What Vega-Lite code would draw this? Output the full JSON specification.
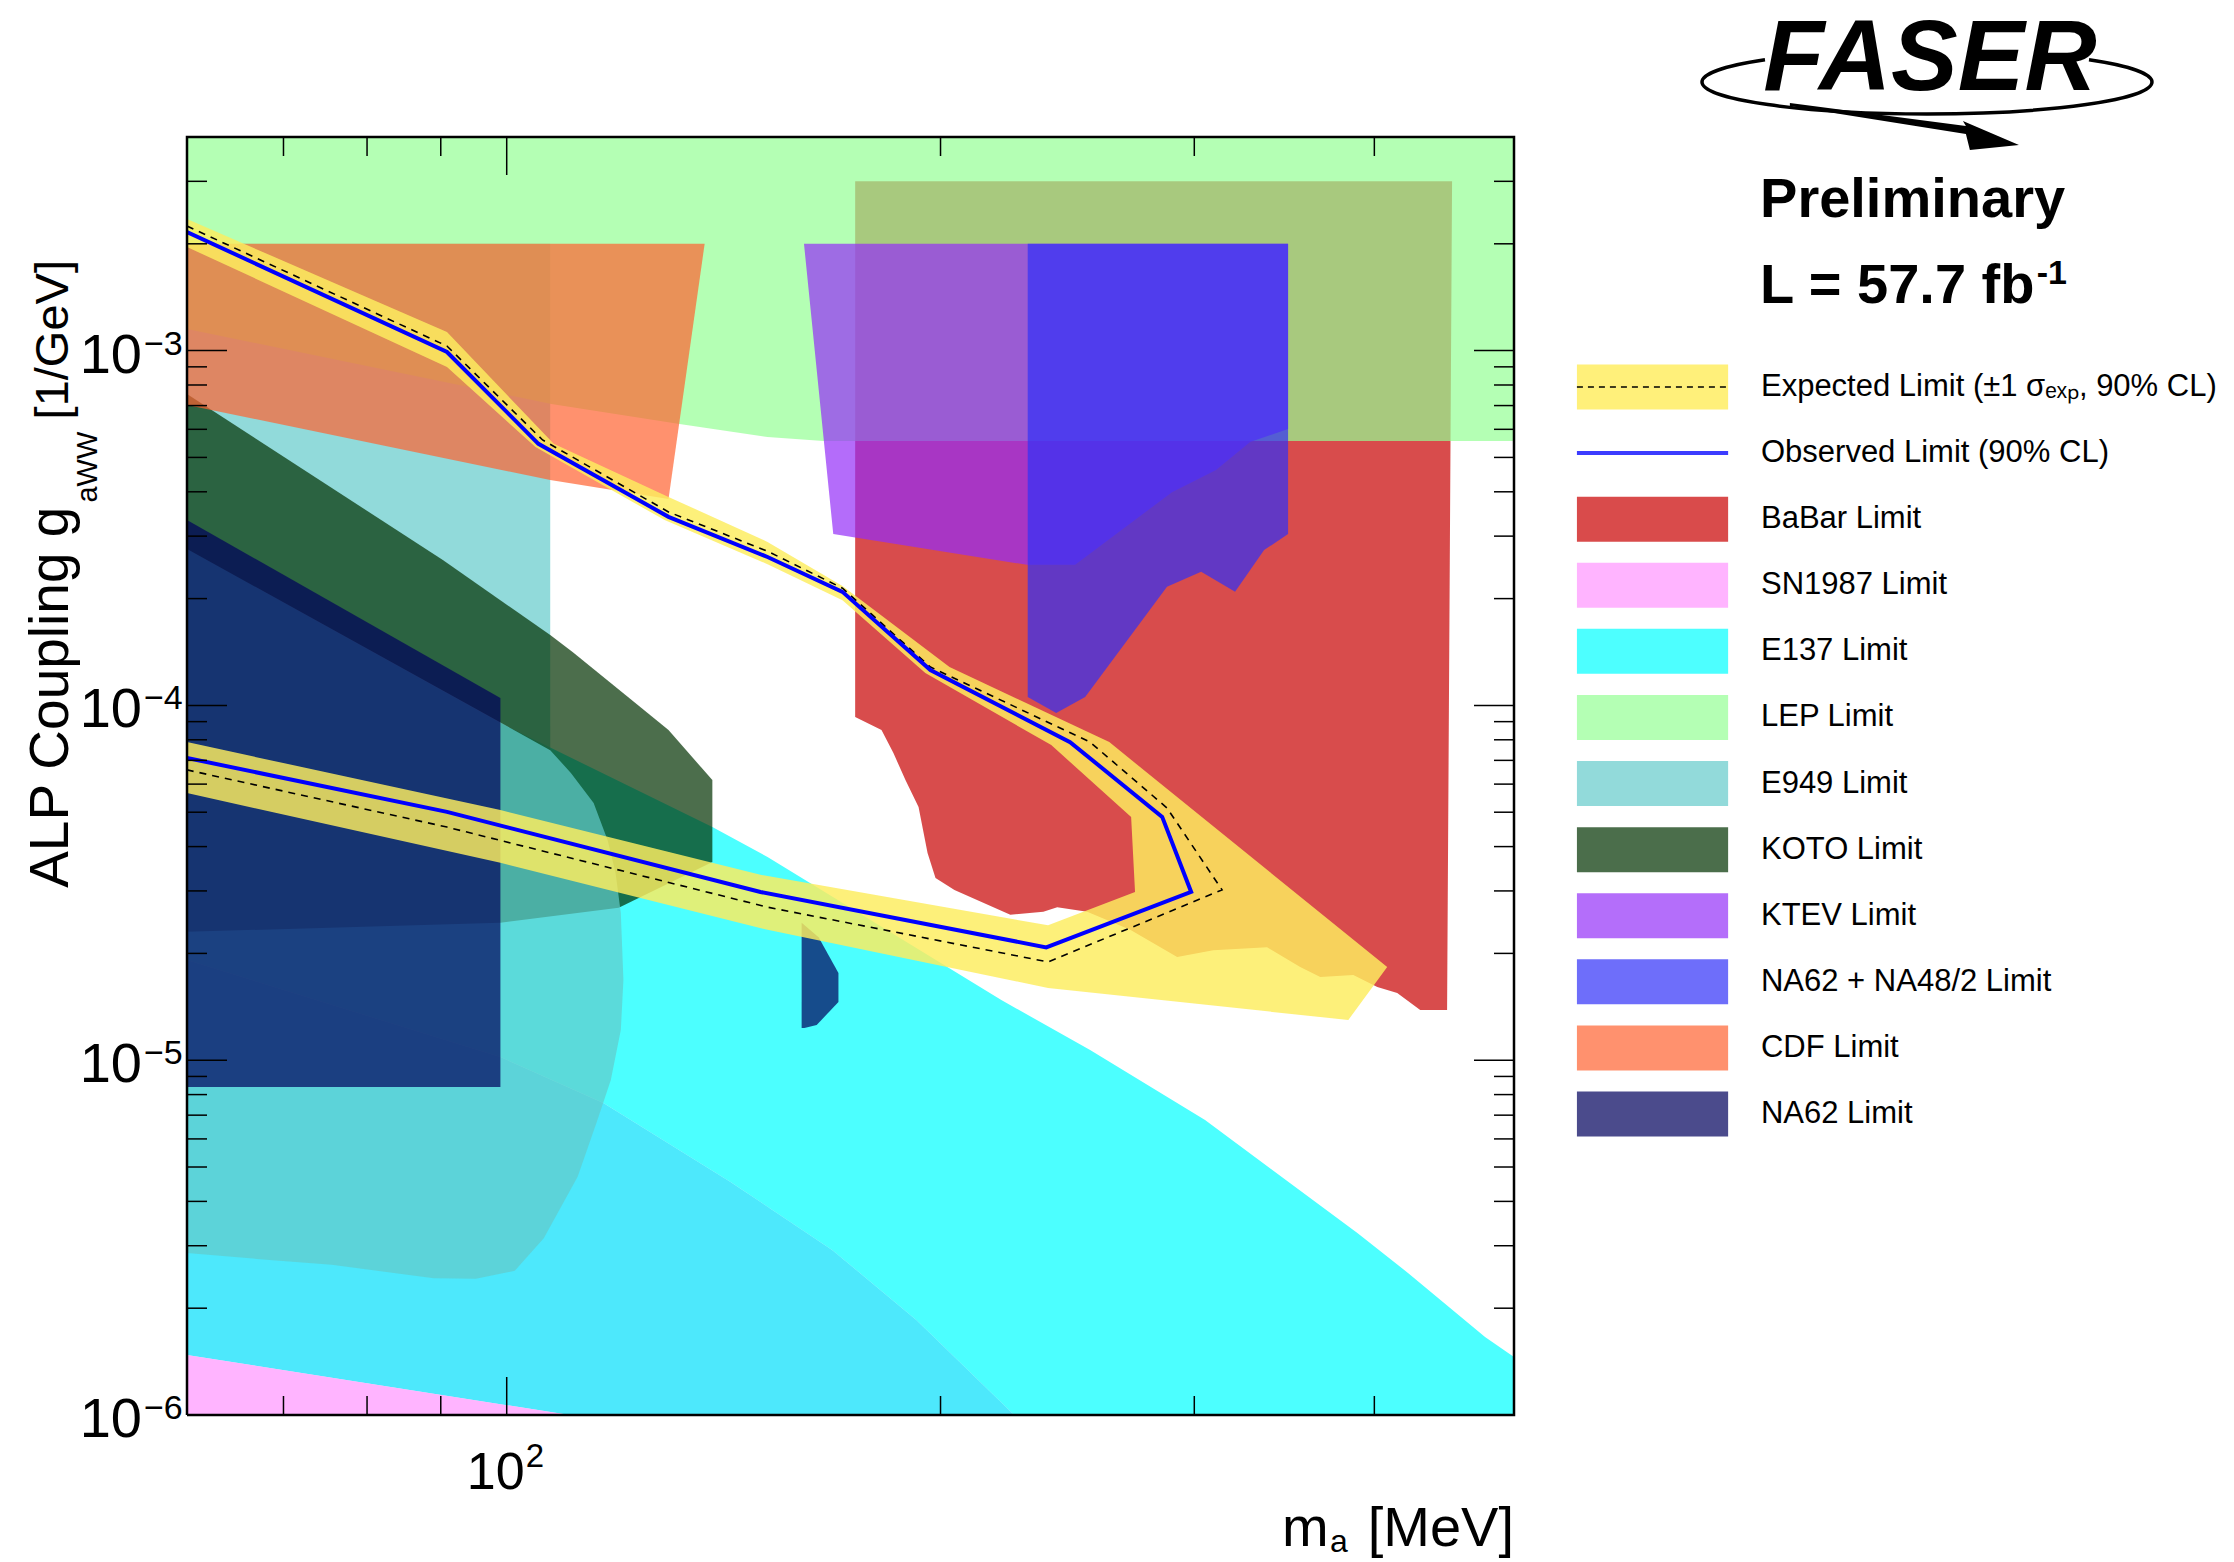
{
"$schema":"https://vega.github.io/schema/vega-lite/v6.json",
"background":"white",
"autosize":{"type":"none"},
"padding":{"left":187,"top":137,"right":720,"bottom":147},
"width":1327,"height":1278,
"config":{"view":{"stroke":null},"font":"Liberation Sans"},
"data":{"values":[
{"p":"E137","i":0,"m":60,"g":2.76e-4},{"p":"E137","i":1,"m":99.0,"g":8.92e-5},{"p":"E137","i":2,"m":138.9,"g":4.54e-5},{"p":"E137","i":3,"m":151.7,"g":3.74e-5},{"p":"E137","i":4,"m":220.4,"g":1.478e-5},{"p":"E137","i":5,"m":254,"g":1.068e-5},{"p":"E137","i":6,"m":305.2,"g":6.78e-6},{"p":"E137","i":7,"m":389.3,"g":3.26e-6},{"p":"E137","i":8,"m":422.3,"g":2.51e-6},{"p":"E137","i":9,"m":477.4,"g":1.66e-6},{"p":"E137","i":10,"m":500,"g":1.457e-6},{"p":"E137","i":11,"m":500,"g":1e-6},{"p":"E137","i":12,"m":225,"g":1e-6},{"p":"E137","i":13,"m":192.5,"g":1.85e-6},{"p":"E137","i":14,"m":168.2,"g":2.92e-6},{"p":"E137","i":15,"m":143,"g":4.54e-6},{"p":"E137","i":16,"m":116.7,"g":7.57e-6},{"p":"E137","i":17,"m":99,"g":1.021e-5},{"p":"E137","i":18,"m":60,"g":1.916e-5},
{"p":"E137b","i":0,"m":60,"g":1.916e-5},{"p":"E137b","i":1,"m":99,"g":1.021e-5},{"p":"E137b","i":2,"m":116.7,"g":7.57e-6},{"p":"E137b","i":3,"m":143,"g":4.54e-6},{"p":"E137b","i":4,"m":168.2,"g":2.92e-6},{"p":"E137b","i":5,"m":192.5,"g":1.85e-6},{"p":"E137b","i":6,"m":225,"g":1e-6},{"p":"E137b","i":7,"m":110.6,"g":1e-6},{"p":"E137b","i":8,"m":60,"g":1.476e-6},
{"p":"SN1987","i":0,"m":60,"g":1.476e-6},{"p":"SN1987","i":1,"m":110.6,"g":1e-6},{"p":"SN1987","i":2,"m":60,"g":1e-6},
{"p":"E949a","i":0,"m":60,"g":2e-3},{"p":"E949a","i":1,"m":107.2,"g":2e-3},{"p":"E949a","i":2,"m":107.2,"g":7.48e-5},{"p":"E949a","i":3,"m":60,"g":2.76e-4},
{"p":"BaBar","i":0,"m":174.5,"g":3.0e-3},{"p":"BaBar","i":1,"m":452.9,"g":3.0e-3},{"p":"BaBar","i":2,"m":449.3,"g":1.385e-5},{"p":"BaBar","i":3,"m":430.4,"g":1.385e-5},{"p":"BaBar","i":4,"m":414.9,"g":1.547e-5},{"p":"BaBar","i":5,"m":401.9,"g":1.608e-5},{"p":"BaBar","i":6,"m":386.8,"g":1.739e-5},{"p":"BaBar","i":7,"m":366.9,"g":1.716e-5},{"p":"BaBar","i":8,"m":355.3,"g":1.831e-5},{"p":"BaBar","i":9,"m":337.0,"g":2.08e-5},{"p":"BaBar","i":10,"m":309.2,"g":2.04e-5},{"p":"BaBar","i":11,"m":291.9,"g":1.954e-5},{"p":"BaBar","i":12,"m":270.8,"g":2.33e-5},{"p":"BaBar","i":13,"m":252.8,"g":2.62e-5},{"p":"BaBar","i":14,"m":241.0,"g":2.70e-5},{"p":"BaBar","i":15,"m":235.7,"g":2.62e-5},{"p":"BaBar","i":16,"m":223.6,"g":2.57e-5},{"p":"BaBar","i":17,"m":204.5,"g":3.02e-5},{"p":"BaBar","i":18,"m":198.4,"g":3.26e-5},{"p":"BaBar","i":19,"m":195.9,"g":3.84e-5},{"p":"BaBar","i":20,"m":193.1,"g":5.17e-5},{"p":"BaBar","i":21,"m":189.1,"g":6.16e-5},{"p":"BaBar","i":22,"m":185.5,"g":7.34e-5},{"p":"BaBar","i":23,"m":182.0,"g":8.52e-5},{"p":"BaBar","i":24,"m":174.5,"g":9.28e-5},
{"p":"LEP","i":0,"m":60,"g":4e-3},{"p":"LEP","i":1,"m":500,"g":4e-3},{"p":"LEP","i":2,"m":500,"g":5.56e-4},{"p":"LEP","i":3,"m":165.9,"g":5.56e-4},{"p":"LEP","i":4,"m":151.7,"g":5.71e-4},{"p":"LEP","i":5,"m":131.8,"g":6.21e-4},{"p":"LEP","i":6,"m":107.4,"g":7.07e-4},{"p":"LEP","i":7,"m":60,"g":1.15e-3},
{"p":"KOTO","i":0,"m":60,"g":7.54e-4},{"p":"KOTO","i":1,"m":90.3,"g":2.57e-4},{"p":"KOTO","i":2,"m":107.2,"g":1.579e-4},{"p":"KOTO","i":3,"m":111.1,"g":1.414e-4},{"p":"KOTO","i":4,"m":122.1,"g":1.036e-4},{"p":"KOTO","i":5,"m":129.5,"g":8.52e-5},{"p":"KOTO","i":6,"m":138.9,"g":6.16e-5},{"p":"KOTO","i":7,"m":138.9,"g":3.62e-5},{"p":"KOTO","i":8,"m":119.6,"g":2.69e-5},{"p":"KOTO","i":9,"m":99.0,"g":2.44e-5},{"p":"KOTO","i":10,"m":60,"g":2.30e-5},
{"p":"E949b","i":0,"m":60,"g":2.76e-4},{"p":"E949b","i":1,"m":107.2,"g":7.48e-5},{"p":"E949b","i":2,"m":110.8,"g":6.45e-5},{"p":"E949b","i":3,"m":114.9,"g":5.31e-5},{"p":"E949b","i":4,"m":117.5,"g":4.17e-5},{"p":"E949b","i":5,"m":119.0,"g":3.37e-5},{"p":"E949b","i":6,"m":120.0,"g":2.60e-5},{"p":"E949b","i":7,"m":120.5,"g":1.683e-5},{"p":"E949b","i":8,"m":120.0,"g":1.217e-5},{"p":"E949b","i":9,"m":118.1,"g":8.79e-6},{"p":"E949b","i":10,"m":115.6,"g":6.78e-6},{"p":"E949b","i":11,"m":112.0,"g":4.69e-6},{"p":"E949b","i":12,"m":106.1,"g":3.15e-6},{"p":"E949b","i":13,"m":101.3,"g":2.55e-6},{"p":"E949b","i":14,"m":95.2,"g":2.42e-6},{"p":"E949b","i":15,"m":89.0,"g":2.43e-6},{"p":"E949b","i":16,"m":75.6,"g":2.65e-6},{"p":"E949b","i":17,"m":68.8,"g":2.73e-6},{"p":"E949b","i":18,"m":60,"g":2.86e-6},
{"p":"NA62","i":0,"m":60,"g":3.33e-4},{"p":"NA62","i":1,"m":99.0,"g":1.049e-4},{"p":"NA62","i":2,"m":99.0,"g":8.40e-6},{"p":"NA62","i":3,"m":60,"g":8.40e-6},
{"p":"NA62s","i":0,"m":160.2,"g":2.44e-5},{"p":"NA62s","i":1,"m":164.6,"g":2.22e-5},{"p":"NA62s","i":2,"m":169.9,"g":1.761e-5},{"p":"NA62s","i":3,"m":169.9,"g":1.459e-5},{"p":"NA62s","i":4,"m":164.1,"g":1.257e-5},{"p":"NA62s","i":5,"m":160.9,"g":1.233e-5},{"p":"NA62s","i":6,"m":160.2,"g":1.233e-5},
{"p":"KTEV","i":0,"m":160.8,"g":2e-3},{"p":"KTEV","i":1,"m":348.5,"g":2e-3},{"p":"KTEV","i":2,"m":348.5,"g":6.01e-4},{"p":"KTEV","i":3,"m":328.0,"g":5.53e-4},{"p":"KTEV","i":4,"m":310.6,"g":4.61e-4},{"p":"KTEV","i":5,"m":289.5,"g":3.99e-4},{"p":"KTEV","i":6,"m":248.0,"g":2.49e-4},{"p":"KTEV","i":7,"m":229.6,"g":2.49e-4},{"p":"KTEV","i":8,"m":168.5,"g":3.04e-4},
{"p":"NA48","i":0,"m":229.9,"g":2e-3},{"p":"NA48","i":1,"m":348.5,"g":2e-3},{"p":"NA48","i":2,"m":348.5,"g":3.04e-4},{"p":"NA48","i":3,"m":335.4,"g":2.74e-4},{"p":"NA48","i":4,"m":331.7,"g":2.57e-4},{"p":"NA48","i":5,"m":320.2,"g":2.09e-4},{"p":"NA48","i":6,"m":303.3,"g":2.38e-4},{"p":"NA48","i":7,"m":287.2,"g":2.16e-4},{"p":"NA48","i":8,"m":252.0,"g":1.056e-4},{"p":"NA48","i":9,"m":240.6,"g":9.52e-5},{"p":"NA48","i":10,"m":229.9,"g":1.056e-4},
{"p":"CDF","i":0,"m":60,"g":2e-3},{"p":"CDF","i":1,"m":137.2,"g":2e-3},{"p":"CDF","i":2,"m":129.5,"g":3.82e-4},{"p":"CDF","i":3,"m":107.2,"g":4.32e-4},{"p":"CDF","i":4,"m":60,"g":7.03e-4},
{"p":"Band","i":0,"m":60,"g":2.349e-3},{"p":"Band","i":1,"m":90.9,"g":1.128e-3},{"p":"Band","i":2,"m":107.8,"g":5.46e-4},{"p":"Band","i":3,"m":129.5,"g":3.87e-4},{"p":"Band","i":4,"m":151.7,"g":2.89e-4},{"p":"Band","i":5,"m":171.0,"g":2.17e-4},{"p":"Band","i":6,"m":202.9,"g":1.283e-4},{"p":"Band","i":7,"m":261.9,"g":7.88e-5},{"p":"Band","i":8,"m":408.3,"g":1.831e-5},{"p":"Band","i":9,"m":383.7,"g":1.298e-5},{"p":"Band","i":10,"m":237.5,"g":1.598e-5},{"p":"Band","i":11,"m":151.7,"g":2.33e-5},{"p":"Band","i":12,"m":99.0,"g":3.60e-5},{"p":"Band","i":13,"m":60,"g":5.66e-5},{"p":"Band","i":14,"m":60,"g":7.88e-5},{"p":"Band","i":15,"m":99.0,"g":5.07e-5},{"p":"Band","i":16,"m":150.0,"g":3.33e-5},{"p":"Band","i":17,"m":237.5,"g":2.40e-5},{"p":"Band","i":18,"m":272.9,"g":2.98e-5},{"p":"Band","i":19,"m":271.2,"g":4.85e-5},{"p":"Band","i":20,"m":238.7,"g":7.73e-5},{"p":"Band","i":21,"m":195.2,"g":1.234e-4},{"p":"Band","i":22,"m":171.0,"g":1.98e-4},{"p":"Band","i":23,"m":151.7,"g":2.50e-4},{"p":"Band","i":24,"m":128.7,"g":3.33e-4},{"p":"Band","i":25,"m":104.7,"g":5.35e-4},{"p":"Band","i":26,"m":90.9,"g":8.99e-4},{"p":"Band","i":27,"m":60,"g":1.959e-3},
{"p":"Obs","i":0,"m":60,"g":2.159e-3},{"p":"Obs","i":1,"m":90.9,"g":9.91e-4},{"p":"Obs","i":2,"m":105.2,"g":5.46e-4},{"p":"Obs","i":3,"m":129.5,"g":3.40e-4},{"p":"Obs","i":4,"m":151.7,"g":2.62e-4},{"p":"Obs","i":5,"m":171.0,"g":2.09e-4},{"p":"Obs","i":6,"m":196.8,"g":1.258e-4},{"p":"Obs","i":7,"m":246.0,"g":7.88e-5},{"p":"Obs","i":8,"m":285.0,"g":4.85e-5},{"p":"Obs","i":9,"m":298.5,"g":2.98e-5},{"p":"Obs","i":10,"m":236.8,"g":2.08e-5},{"p":"Obs","i":11,"m":150.0,"g":2.98e-5},{"p":"Obs","i":12,"m":90.9,"g":5.01e-5},{"p":"Obs","i":13,"m":60,"g":7.11e-5},
{"p":"Exp","i":0,"m":60,"g":2.244e-3},{"p":"Exp","i":1,"m":90.9,"g":1.030e-3},{"p":"Exp","i":2,"m":105.9,"g":5.60e-4},{"p":"Exp","i":3,"m":129.5,"g":3.51e-4},{"p":"Exp","i":4,"m":151.7,"g":2.72e-4},{"p":"Exp","i":5,"m":171.0,"g":2.14e-4},{"p":"Exp","i":6,"m":196.8,"g":1.283e-4},{"p":"Exp","i":7,"m":254.0,"g":7.88e-5},{"p":"Exp","i":8,"m":287.2,"g":5.14e-5},{"p":"Exp","i":9,"m":313.6,"g":3.02e-5},{"p":"Exp","i":10,"m":237.5,"g":1.892e-5},{"p":"Exp","i":11,"m":151.7,"g":2.70e-5},{"p":"Exp","i":12,"m":90.9,"g":4.54e-5},{"p":"Exp","i":13,"m":60,"g":6.58e-5},
{"p":"tx","k":"n","m":70,"g":1e-4},{"p":"tx","k":"n","m":80,"g":1e-4},{"p":"tx","k":"n","m":90,"g":1e-4},{"p":"tx","k":"j","m":100,"g":1e-4},{"p":"tx","k":"n","m":200,"g":1e-4},{"p":"tx","k":"n","m":300,"g":1e-4},{"p":"tx","k":"n","m":400,"g":1e-4},
{"p":"ty","k":"j","m":100,"g":1e-6},{"p":"ty","k":"n","m":100,"g":2e-6},{"p":"ty","k":"n","m":100,"g":3e-6},{"p":"ty","k":"n","m":100,"g":4e-6},{"p":"ty","k":"n","m":100,"g":5e-6},{"p":"ty","k":"n","m":100,"g":6e-6},{"p":"ty","k":"n","m":100,"g":7e-6},{"p":"ty","k":"n","m":100,"g":8e-6},{"p":"ty","k":"n","m":100,"g":9e-6},
{"p":"ty","k":"j","m":100,"g":1e-5},{"p":"ty","k":"n","m":100,"g":2e-5},{"p":"ty","k":"n","m":100,"g":3e-5},{"p":"ty","k":"n","m":100,"g":4e-5},{"p":"ty","k":"n","m":100,"g":5e-5},{"p":"ty","k":"n","m":100,"g":6e-5},{"p":"ty","k":"n","m":100,"g":7e-5},{"p":"ty","k":"n","m":100,"g":8e-5},{"p":"ty","k":"n","m":100,"g":9e-5},
{"p":"ty","k":"j","m":100,"g":1e-4},{"p":"ty","k":"n","m":100,"g":2e-4},{"p":"ty","k":"n","m":100,"g":3e-4},{"p":"ty","k":"n","m":100,"g":4e-4},{"p":"ty","k":"n","m":100,"g":5e-4},{"p":"ty","k":"n","m":100,"g":6e-4},{"p":"ty","k":"n","m":100,"g":7e-4},{"p":"ty","k":"n","m":100,"g":8e-4},{"p":"ty","k":"n","m":100,"g":9e-4},
{"p":"ty","k":"j","m":100,"g":1e-3},{"p":"ty","k":"n","m":100,"g":2e-3},{"p":"ty","k":"n","m":100,"g":3e-3},
{"p":"fr","i":0,"m":60,"g":1e-6},{"p":"fr","i":1,"m":500,"g":1e-6},{"p":"fr","i":2,"m":500,"g":4e-3},{"p":"fr","i":3,"m":60,"g":4e-3},{"p":"fr","i":4,"m":60,"g":1e-6},
{"p":"one","m":100,"g":1e-4,"order":1},
{"p":"leg","label":"Expected Limit (±1 σₑₓₚ, 90% CL)","order":1,"kind":"band"},
{"p":"leg","label":"Observed Limit (90% CL)","order":2,"kind":"line"},
{"p":"leg","label":"BaBar Limit","order":3,"kind":"box"},
{"p":"leg","label":"SN1987 Limit","order":4,"kind":"box"},
{"p":"leg","label":"E137 Limit","order":5,"kind":"box"},
{"p":"leg","label":"LEP Limit","order":6,"kind":"box"},
{"p":"leg","label":"E949 Limit","order":7,"kind":"box"},
{"p":"leg","label":"KOTO Limit","order":8,"kind":"box"},
{"p":"leg","label":"KTEV Limit","order":9,"kind":"box"},
{"p":"leg","label":"NA62 + NA48/2 Limit","order":10,"kind":"box"},
{"p":"leg","label":"CDF Limit","order":11,"kind":"box"},
{"p":"leg","label":"NA62 Limit","order":12,"kind":"box"}
]},
"resolve":{"scale":{"x":"independent","y":"independent","color":"independent"},"axis":{"x":"independent","y":"independent"}},
"layer":[
{
"encoding":{
"x":{"field":"m","type":"quantitative","scale":{"type":"log","domain":[60,500],"nice":false},"axis":null},
"y":{"field":"g","type":"quantitative","scale":{"type":"log","domain":[0.000001,0.004],"nice":false},"axis":null}
},
"layer":[
{"transform":[{"filter":"datum.p=='E137'"}],"mark":{"type":"line","filled":true,"color":"#00ffff","fillOpacity":0.7,"clip":true},"encoding":{"order":{"field":"i","type":"quantitative"}}},
{"transform":[{"filter":"datum.p=='E137b'"}],"mark":{"type":"line","filled":true,"color":"#02defb","fillOpacity":0.7,"clip":true},"encoding":{"order":{"field":"i","type":"quantitative"}}},
{"transform":[{"filter":"datum.p=='SN1987'"}],"mark":{"type":"line","filled":true,"color":"#ff94ff","fillOpacity":0.7,"clip":true},"encoding":{"order":{"field":"i","type":"quantitative"}}},
{"transform":[{"filter":"datum.p=='E949a'"}],"mark":{"type":"line","filled":true,"color":"#62caca","fillOpacity":0.7,"clip":true},"encoding":{"order":{"field":"i","type":"quantitative"}}},
{"transform":[{"filter":"datum.p=='BaBar'"}],"mark":{"type":"line","filled":true,"color":"#c80000","fillOpacity":0.7,"clip":true},"encoding":{"order":{"field":"i","type":"quantitative"}}},
{"transform":[{"filter":"datum.p=='LEP'"}],"mark":{"type":"line","filled":true,"color":"#94ff94","fillOpacity":0.7,"clip":true},"encoding":{"order":{"field":"i","type":"quantitative"}}},
{"transform":[{"filter":"datum.p=='KOTO'"}],"mark":{"type":"line","filled":true,"color":"#003000","fillOpacity":0.7,"clip":true},"encoding":{"order":{"field":"i","type":"quantitative"}}},
{"transform":[{"filter":"datum.p=='E949b'"}],"mark":{"type":"line","filled":true,"color":"#62caca","fillOpacity":0.7,"clip":true},"encoding":{"order":{"field":"i","type":"quantitative"}}},
{"transform":[{"filter":"datum.p=='NA62'"}],"mark":{"type":"line","filled":true,"color":"#00005b","fillOpacity":0.7,"clip":true},"encoding":{"order":{"field":"i","type":"quantitative"}}},
{"transform":[{"filter":"datum.p=='NA62s'"}],"mark":{"type":"line","filled":true,"color":"#00005b","fillOpacity":0.7,"clip":true},"encoding":{"order":{"field":"i","type":"quantitative"}}},
{"transform":[{"filter":"datum.p=='KTEV'"}],"mark":{"type":"line","filled":true,"color":"#942ef8","fillOpacity":0.7,"clip":true},"encoding":{"order":{"field":"i","type":"quantitative"}}},
{"transform":[{"filter":"datum.p=='NA48'"}],"mark":{"type":"line","filled":true,"color":"#3030f8","fillOpacity":0.7,"clip":true},"encoding":{"order":{"field":"i","type":"quantitative"}}},
{"transform":[{"filter":"datum.p=='CDF'"}],"mark":{"type":"line","filled":true,"color":"#ff6230","fillOpacity":0.7,"clip":true},"encoding":{"order":{"field":"i","type":"quantitative"}}},
{"transform":[{"filter":"datum.p=='Band'"}],"mark":{"type":"line","filled":true,"color":"#fded5f","fillOpacity":0.83,"clip":true},"encoding":{"order":{"field":"i","type":"quantitative"}}},
{"transform":[{"filter":"datum.p=='Exp'"}],"mark":{"type":"line","color":"black","strokeWidth":1.6,"strokeDash":[7,6],"clip":true},"encoding":{"order":{"field":"i","type":"quantitative"}}},
{"transform":[{"filter":"datum.p=='Obs'"}],"mark":{"type":"line","color":"#0000ff","strokeWidth":4,"clip":true},"encoding":{"order":{"field":"i","type":"quantitative"}}},
{"transform":[{"filter":"datum.p=='tx' && datum.k=='j'"}],"mark":{"type":"rule","color":"black","strokeWidth":1.5,"y2Offset":-38},"encoding":{"y":{"datum":0.000001,"type":"quantitative"},"y2":{"datum":0.000001}}},
{"transform":[{"filter":"datum.p=='tx' && datum.k=='n'"}],"mark":{"type":"rule","color":"black","strokeWidth":1.5,"y2Offset":-19},"encoding":{"y":{"datum":0.000001,"type":"quantitative"},"y2":{"datum":0.000001}}},
{"transform":[{"filter":"datum.p=='tx' && datum.k=='j'"}],"mark":{"type":"rule","color":"black","strokeWidth":1.5,"y2Offset":38},"encoding":{"y":{"datum":0.004,"type":"quantitative"},"y2":{"datum":0.004}}},
{"transform":[{"filter":"datum.p=='tx' && datum.k=='n'"}],"mark":{"type":"rule","color":"black","strokeWidth":1.5,"y2Offset":19},"encoding":{"y":{"datum":0.004,"type":"quantitative"},"y2":{"datum":0.004}}},
{"transform":[{"filter":"datum.p=='ty' && datum.k=='j'"}],"mark":{"type":"rule","color":"black","strokeWidth":1.5,"x2Offset":40},"encoding":{"x":{"datum":60,"type":"quantitative"},"x2":{"datum":60}}},
{"transform":[{"filter":"datum.p=='ty' && datum.k=='n'"}],"mark":{"type":"rule","color":"black","strokeWidth":1.5,"x2Offset":20},"encoding":{"x":{"datum":60,"type":"quantitative"},"x2":{"datum":60}}},
{"transform":[{"filter":"datum.p=='ty' && datum.k=='j'"}],"mark":{"type":"rule","color":"black","strokeWidth":1.5,"x2Offset":-40},"encoding":{"x":{"datum":500,"type":"quantitative"},"x2":{"datum":500}}},
{"transform":[{"filter":"datum.p=='ty' && datum.k=='n'"}],"mark":{"type":"rule","color":"black","strokeWidth":1.5,"x2Offset":-20},"encoding":{"x":{"datum":500,"type":"quantitative"},"x2":{"datum":500}}},
{"transform":[{"filter":"datum.p=='fr'"}],"mark":{"type":"line","color":"black","strokeWidth":2.5},"encoding":{"order":{"field":"i","type":"quantitative"}}},
{"transform":[{"filter":"datum.p=='ty' && datum.k=='j'"}],"mark":{"type":"text","text":"10","align":"right","baseline":"alphabetic","fontSize":56,"dx":-45,"dy":22,"font":"Liberation Sans","color":"black"},"encoding":{"x":{"datum":60,"type":"quantitative"}}},
{"transform":[{"filter":"datum.p=='ty' && datum.g==0.000001"}],"mark":{"type":"text","text":"−6","align":"left","baseline":"alphabetic","fontSize":34,"dx":-43,"dy":4,"font":"Liberation Sans","color":"black"},"encoding":{"x":{"datum":60,"type":"quantitative"}}},
{"transform":[{"filter":"datum.p=='ty' && datum.g==0.00001"}],"mark":{"type":"text","text":"−5","align":"left","baseline":"alphabetic","fontSize":34,"dx":-43,"dy":4,"font":"Liberation Sans","color":"black"},"encoding":{"x":{"datum":60,"type":"quantitative"}}},
{"transform":[{"filter":"datum.p=='ty' && datum.g==0.0001"}],"mark":{"type":"text","text":"−4","align":"left","baseline":"alphabetic","fontSize":34,"dx":-43,"dy":4,"font":"Liberation Sans","color":"black"},"encoding":{"x":{"datum":60,"type":"quantitative"}}},
{"transform":[{"filter":"datum.p=='ty' && datum.g==0.001"}],"mark":{"type":"text","text":"−3","align":"left","baseline":"alphabetic","fontSize":34,"dx":-43,"dy":4,"font":"Liberation Sans","color":"black"},"encoding":{"x":{"datum":60,"type":"quantitative"}}},
{"transform":[{"filter":"datum.p=='tx' && datum.k=='j'"}],"mark":{"type":"text","text":"10","align":"right","baseline":"alphabetic","fontSize":52,"dx":18,"dy":74,"font":"Liberation Sans","color":"black"},"encoding":{"y":{"datum":0.000001,"type":"quantitative"}}},
{"transform":[{"filter":"datum.p=='tx' && datum.k=='j'"}],"mark":{"type":"text","text":"2","align":"left","baseline":"alphabetic","fontSize":33,"dx":19,"dy":52,"font":"Liberation Sans","color":"black"},"encoding":{"y":{"datum":0.000001,"type":"quantitative"}}},
{"transform":[{"filter":"datum.p=='one'"}],"mark":{"type":"text","text":"ALP Coupling g","angle":270,"align":"left","baseline":"alphabetic","fontSize":55,"dy":-119,"font":"Liberation Sans","color":"black"},"encoding":{"x":{"datum":60,"type":"quantitative"},"y":{"datum":0.0000306,"type":"quantitative"}}},
{"transform":[{"filter":"datum.p=='one'"}],"mark":{"type":"text","text":"aWW","angle":270,"align":"left","baseline":"alphabetic","fontSize":29,"dy":-90,"font":"Liberation Sans","color":"black"},"encoding":{"x":{"datum":60,"type":"quantitative"},"y":{"datum":0.000373,"type":"quantitative"}}},
{"transform":[{"filter":"datum.p=='one'"}],"mark":{"type":"text","text":"[1/GeV]","angle":270,"align":"right","baseline":"alphabetic","fontSize":47,"dy":-119,"font":"Liberation Sans","color":"black"},"encoding":{"x":{"datum":60,"type":"quantitative"},"y":{"datum":0.0018,"type":"quantitative"}}},
{"transform":[{"filter":"datum.p=='one'"}],"mark":{"type":"text","text":"[MeV]","align":"right","baseline":"alphabetic","fontSize":56,"dy":131,"font":"Liberation Sans","color":"black"},"encoding":{"x":{"datum":500,"type":"quantitative"},"y":{"datum":0.000001,"type":"quantitative"}}},
{"transform":[{"filter":"datum.p=='one'"}],"mark":{"type":"text","text":"m","align":"left","baseline":"alphabetic","fontSize":56,"dx":-232,"dy":131,"font":"Liberation Sans","color":"black"},"encoding":{"x":{"datum":500,"type":"quantitative"},"y":{"datum":0.000001,"type":"quantitative"}}},
{"transform":[{"filter":"datum.p=='one'"}],"mark":{"type":"text","text":"a","align":"left","baseline":"alphabetic","fontSize":32,"dx":-184,"dy":137,"font":"Liberation Sans","color":"black"},"encoding":{"x":{"datum":500,"type":"quantitative"},"y":{"datum":0.000001,"type":"quantitative"}}}
]
},
{
"encoding":{
"x":{"datum":0.1924,"type":"quantitative","scale":{"domain":[0,1],"range":[1327,2047]},"axis":null},
"y":{"field":"order","type":"quantitative","scale":{"domain":[1,12],"range":[250,977]},"axis":null}
},
"layer":[
{"transform":[{"filter":"datum.p=='leg' && datum.kind!='line'"}],"mark":{"type":"point","shape":"M -1.68 -0.5 L 1.68 -0.5 L 1.68 0.5 L -1.68 0.5 Z","size":8100,"filled":true,"opacity":1,"strokeWidth":0},"encoding":{"color":{"field":"label","type":"nominal","scale":{"domain":["Expected Limit (±1 σₑₓₚ, 90% CL)","BaBar Limit","SN1987 Limit","E137 Limit","LEP Limit","E949 Limit","KOTO Limit","KTEV Limit","NA62 + NA48/2 Limit","CDF Limit","NA62 Limit"],"range":["#fff07a","#d94b4b","#ffb4ff","#4dffff","#b4ffb4","#92dada","#4b6e4b","#b46efa","#6e6efa","#ff916e","#4b4b8c"]},"legend":null}}},
{"transform":[{"filter":"datum.p=='leg' && datum.kind=='band'"}],"mark":{"type":"point","shape":"M -1.68 0 L 1.68 0","size":8100,"filled":false,"opacity":1,"color":"black","strokeWidth":1.5,"strokeDash":[6,5]}},
{"transform":[{"filter":"datum.p=='leg' && datum.kind=='line'"}],"mark":{"type":"point","shape":"M -1.68 0 L 1.68 0","size":8100,"filled":false,"opacity":1,"color":"#3c3cff","strokeWidth":4}},
{"transform":[{"filter":"datum.p=='leg'"}],"mark":{"type":"text","align":"left","baseline":"middle","fontSize":31,"font":"Liberation Sans","color":"black"},"encoding":{"x":{"datum":0.343,"type":"quantitative"},"text":{"field":"label"}}},
{"transform":[{"filter":"datum.p=='one'"}],"mark":{"type":"text","text":"Preliminary","align":"left","baseline":"alphabetic","fontSize":56,"fontWeight":"bold","font":"Liberation Sans","color":"black"},"encoding":{"x":{"datum":0.3417,"type":"quantitative"},"y":{"datum":-1.572,"type":"quantitative"}}},
{"transform":[{"filter":"datum.p=='one'"}],"mark":{"type":"text","text":"L = 57.7 fb","align":"left","baseline":"alphabetic","fontSize":56,"fontWeight":"bold","font":"Liberation Sans","color":"black"},"encoding":{"x":{"datum":0.3417,"type":"quantitative"},"y":{"datum":-0.271,"type":"quantitative"}}},
{"transform":[{"filter":"datum.p=='one'"}],"mark":{"type":"text","text":"-1","align":"left","baseline":"alphabetic","fontSize":34,"fontWeight":"bold","font":"Liberation Sans","color":"black"},"encoding":{"x":{"datum":0.726,"type":"quantitative"},"y":{"datum":-0.56,"type":"quantitative"}}},
{"transform":[{"filter":"datum.p=='one'"}],"mark":{"type":"point","shape":"M -0.72 -0.0986 A 1 0.142 0 0 0 -1 0 A 1 0.142 0 0 0 1 0 A 1 0.142 0 0 0 0.72 -0.0986","size":202500,"filled":false,"opacity":1,"color":"black","strokeWidth":3.5},"encoding":{"x":{"datum":0.5736,"type":"quantitative"},"y":{"datum":-3.615,"type":"quantitative"}}},
{"transform":[{"filter":"datum.p=='one'"}],"mark":{"type":"point","shape":"M -0.917 -0.158 L 0.55 0.033 L 0.525 -0.008 L 0.992 0.192 L 0.583 0.233 L 0.55 0.1 L -0.917 -0.133 Z","size":57600,"filled":true,"opacity":1,"color":"black","strokeWidth":0},"encoding":{"x":{"datum":0.536,"type":"quantitative"},"y":{"datum":-3.01,"type":"quantitative"}}},
{"transform":[{"filter":"datum.p=='one'"}],"mark":{"type":"text","text":"FASER","align":"center","baseline":"middle","fontSize":100,"fontWeight":"bold","fontStyle":"italic","font":"Liberation Sans","color":"black"},"encoding":{"x":{"datum":0.5778,"type":"quantitative"},"y":{"datum":-3.948,"type":"quantitative"}}}
]
}
]
}
